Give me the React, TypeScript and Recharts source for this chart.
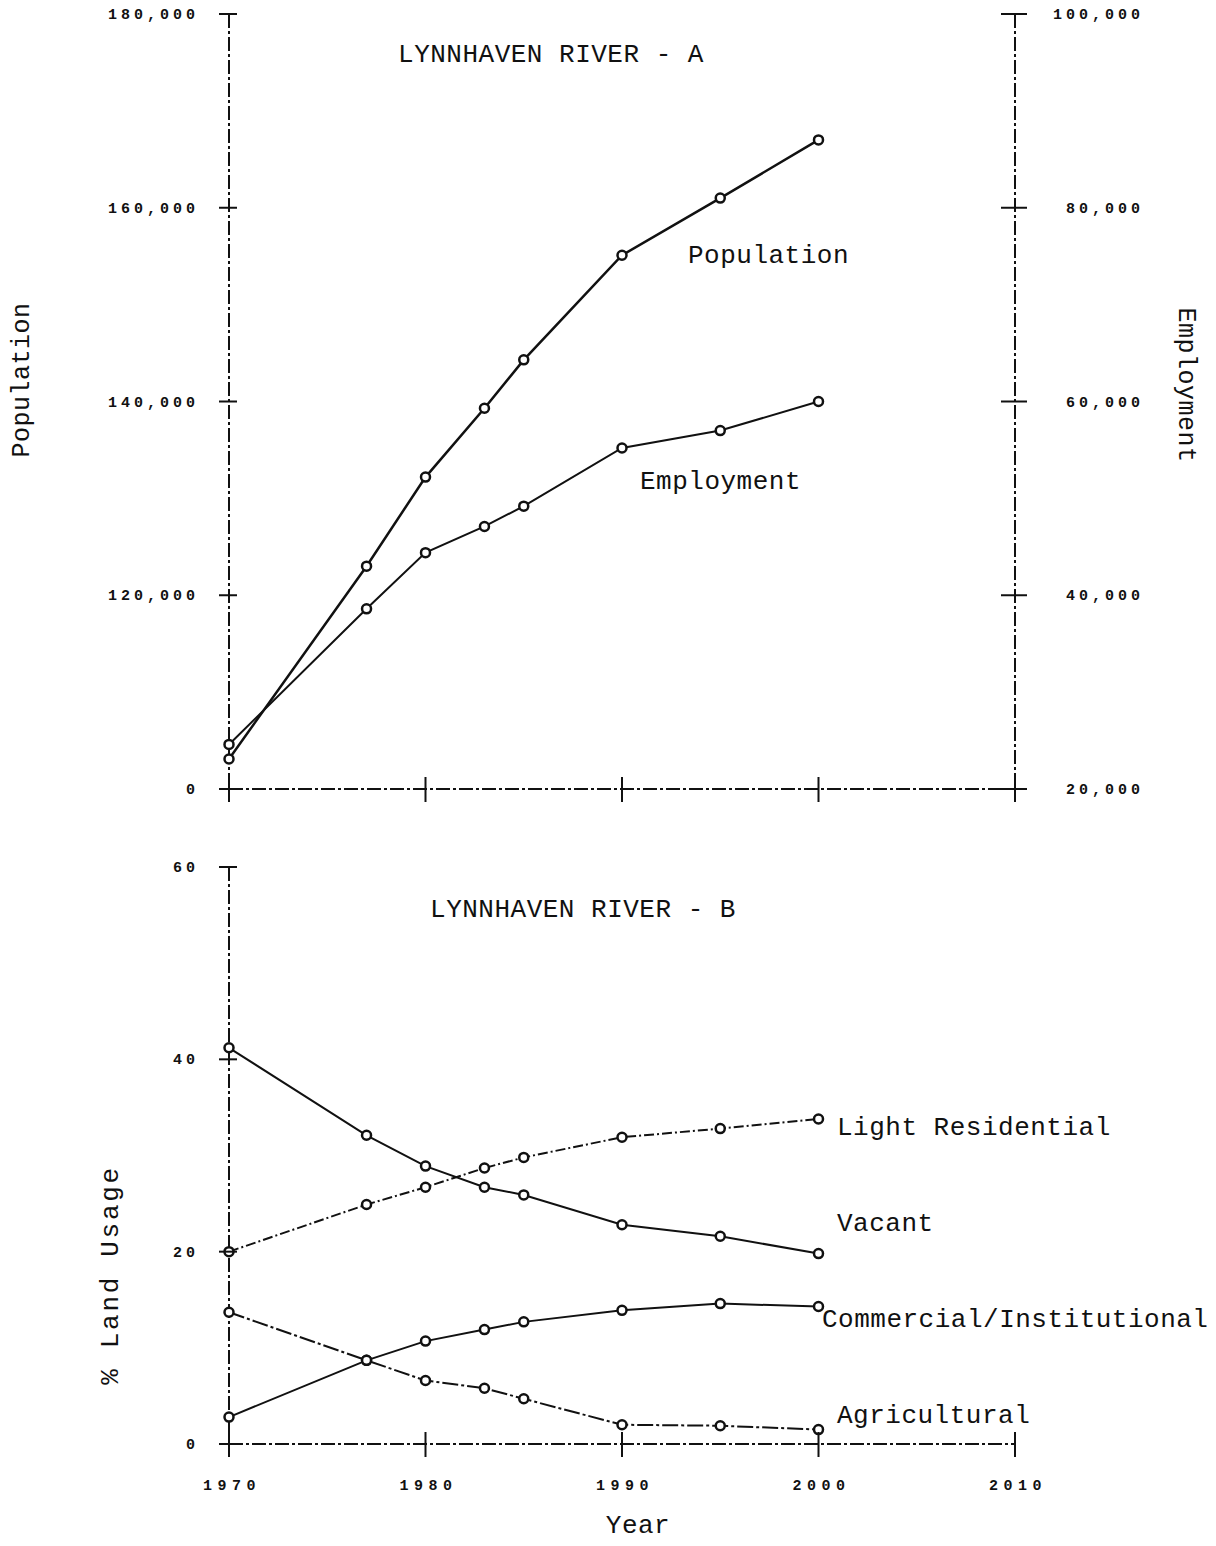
import { Line, LineChart, XAxis, YAxis } from "recharts";

// values
const years = [1970, 1977, 1980, 1983, 1985, 1990, 1995, 2000];
const population = [103100, 123000, 132200, 139300, 144300, 155100, 161000, 167000];
const employment = [24600, 38600, 44400, 47100, 49200, 55200, 57000, 60000];

const lightResidential = [20.0, 24.9, 26.7, 28.7, 29.8, 31.9, 32.8, 33.8];
const vacant = [41.2, 32.1, 28.9, 26.7, 25.9, 22.8, 21.6, 19.8];
const commercial = [2.8, 8.7, 10.7, 11.9, 12.7, 13.9, 14.6, 14.3];
const agricultural = [13.7, 8.7, 6.6, 5.8, 4.7, 2.0, 1.9, 1.5];

const yearTicks = [1970, 1980, 1990, 2000, 2010];
const populationTicks = [100000, 120000, 140000, 160000, 180000];
const populationTickLabels = ["0", "120,000", "140,000", "160,000", "180,000"];
const employmentTicks = [20000, 40000, 60000, 80000, 100000];
const employmentTickLabels = ["20,000", "40,000", "60,000", "80,000", "100,000"];
const landTicks = [0, 20, 40, 60];
const landTickLabels = ["0", "20", "40", "60"];

const INK = "#111";
const MONO = "'Liberation Mono', 'DejaVu Sans Mono', monospace";

const tickFont = {
  fontFamily: MONO,
  fontSize: 15,
  fontWeight: 700,
  letterSpacing: 4,
  fill: INK,
};

const axisLine = { stroke: INK, strokeWidth: 2, strokeDasharray: "14 3 3 3" };
const dot = {
  r: 4.5,
  fill: "#fff",
  stroke: INK,
  strokeWidth: 2.5,
  strokeDasharray: "none",
};

const topRows = years.map((year, i) => ({
  year,
  population: population[i],
  employment: employment[i],
}));

const bottomRows = years.map((year, i) => ({
  year,
  lightResidential: lightResidential[i],
  vacant: vacant[i],
  commercial: commercial[i],
  agricultural: agricultural[i],
}));

function LeftTick(props: any) {
  const { x, y, payload, ticks, labels } = props;
  const label = labels[ticks.indexOf(payload.value)];
  return (
    <g>
      <line x1={x - 10} x2={x + 8} y1={y} y2={y} stroke={INK} strokeWidth={2} />
      <text x={x - 30} y={y} dy={5} textAnchor="end" style={tickFont}>
        {label}
      </text>
    </g>
  );
}

function RightTick(props: any) {
  const { x, y, payload, ticks, labels } = props;
  const label = labels[ticks.indexOf(payload.value)];
  return (
    <g>
      <line x1={x - 14} x2={x + 12} y1={y} y2={y} stroke={INK} strokeWidth={2} />
      <text x={x + 129} y={y} dy={5} textAnchor="end" style={tickFont}>
        {label}
      </text>
    </g>
  );
}

function YearTick(props: any) {
  const { x, y, payload, showLabel } = props;
  return (
    <g>
      <line x1={x} x2={x} y1={y - 12} y2={y + 13} stroke={INK} strokeWidth={2} />
      {showLabel && (
        <text
          x={x + 3}
          y={y + 46}
          textAnchor="middle"
          style={{ ...tickFont, fontSize: 15, letterSpacing: 5.5 }}
        >
          {payload.value}
        </text>
      )}
    </g>
  );
}

function Note({
  x,
  y,
  children,
  center = false,
  rotate = 0,
  size = 26,
  spacing = 0.5,
}: {
  x: number;
  y: number;
  children: string;
  center?: boolean;
  rotate?: number;
  size?: number;
  spacing?: number;
}) {
  const shift = center ? "translate(-50%, -50%)" : "translate(0, -50%)";
  return (
    <div
      style={{
        position: "absolute",
        left: x,
        top: y,
        transform: `${shift} rotate(${rotate}deg)`,
        fontFamily: MONO,
        fontSize: size,
        letterSpacing: spacing,
        lineHeight: 1,
        color: INK,
        whiteSpace: "nowrap",
      }}
    >
      {children}
    </div>
  );
}

export default function App() {
  return (
    <div
      style={{
        position: "absolute",
        left: 0,
        top: 0,
        width: 1216,
        height: 1546,
        background: "#fff",
        overflow: "hidden",
      }}
    >
      <div style={{ position: "absolute", left: 0, top: 0 }}>
        <LineChart
          width={1216}
          height={819}
          data={topRows}
          margin={{ top: 14, right: 0, bottom: 0, left: 0 }}
        >
          <XAxis
            dataKey="year"
            type="number"
            domain={[1970, 2010]}
            ticks={yearTicks}
            height={30}
            axisLine={axisLine}
            tickLine={false}
            tickSize={0}
            tickMargin={0}
            tick={(p: any) => <YearTick {...p} showLabel={false} />}
          />
          <YAxis
            yAxisId="pop"
            orientation="left"
            type="number"
            domain={[100000, 180000]}
            ticks={populationTicks}
            width={229}
            axisLine={axisLine}
            tickLine={false}
            tickSize={0}
            tickMargin={0}
            tick={(p: any) => (
              <LeftTick {...p} ticks={populationTicks} labels={populationTickLabels} />
            )}
          />
          <YAxis
            yAxisId="emp"
            orientation="right"
            type="number"
            domain={[20000, 100000]}
            ticks={employmentTicks}
            width={201}
            axisLine={axisLine}
            tickLine={false}
            tickSize={0}
            tickMargin={0}
            tick={(p: any) => (
              <RightTick {...p} ticks={employmentTicks} labels={employmentTickLabels} />
            )}
          />
          <Line
            yAxisId="pop"
            type="linear"
            dataKey="population"
            stroke={INK}
            strokeWidth={2.5}
            dot={dot}
            isAnimationActive={false}
          />
          <Line
            yAxisId="emp"
            type="linear"
            dataKey="employment"
            stroke={INK}
            strokeWidth={2}
            dot={dot}
            isAnimationActive={false}
          />
        </LineChart>
      </div>

      <div style={{ position: "absolute", left: 0, top: 840 }}>
        <LineChart
          width={1216}
          height={700}
          data={bottomRows}
          margin={{ top: 27, right: 201, bottom: 0, left: 0 }}
        >
          <XAxis
            dataKey="year"
            type="number"
            domain={[1970, 2010]}
            ticks={yearTicks}
            height={96}
            axisLine={axisLine}
            tickLine={false}
            tickSize={0}
            tickMargin={0}
            tick={(p: any) => <YearTick {...p} showLabel />}
          />
          <YAxis
            type="number"
            domain={[0, 60]}
            ticks={landTicks}
            width={229}
            axisLine={axisLine}
            tickLine={false}
            tickSize={0}
            tickMargin={0}
            tick={(p: any) => (
              <LeftTick {...p} ticks={landTicks} labels={landTickLabels} />
            )}
          />
          <Line
            type="linear"
            dataKey="lightResidential"
            stroke={INK}
            strokeWidth={2}
            strokeDasharray="10 3 2 3"
            dot={dot}
            isAnimationActive={false}
          />
          <Line
            type="linear"
            dataKey="vacant"
            stroke={INK}
            strokeWidth={2}
            dot={dot}
            isAnimationActive={false}
          />
          <Line
            type="linear"
            dataKey="commercial"
            stroke={INK}
            strokeWidth={2}
            dot={dot}
            isAnimationActive={false}
          />
          <Line
            type="linear"
            dataKey="agricultural"
            stroke={INK}
            strokeWidth={2}
            strokeDasharray="16 3 3 3"
            dot={dot}
            isAnimationActive={false}
          />
        </LineChart>
      </div>

      <Note x={551} y={55} center>LYNNHAVEN RIVER - A</Note>
      <Note x={583} y={910} center>LYNNHAVEN RIVER - B</Note>

      <Note x={688} y={256}>Population</Note>
      <Note x={640} y={482}>Employment</Note>
      <Note x={837} y={1128}>Light Residential</Note>
      <Note x={837} y={1224}>Vacant</Note>
      <Note x={822} y={1320}>Commercial/Institutional</Note>
      <Note x={837} y={1416}>Agricultural</Note>

      <Note x={22} y={380} center rotate={-90} size={25}>Population</Note>
      <Note x={1185} y={385} center rotate={90} size={25}>Employment</Note>
      <Note x={111} y={1275} center rotate={-90} size={26} spacing={2.7}>% Land Usage</Note>
      <Note x={638} y={1526} center>Year</Note>
    </div>
  );
}
